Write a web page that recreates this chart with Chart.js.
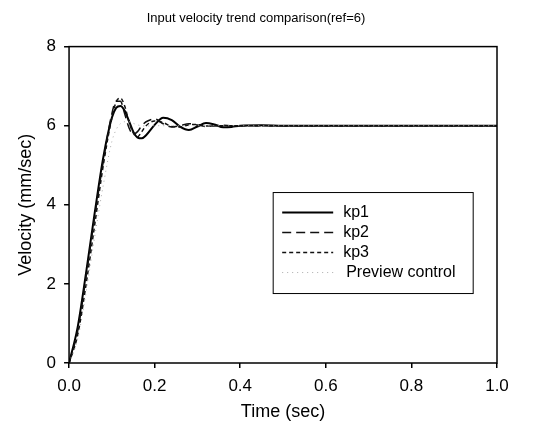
<!DOCTYPE html>
<html>
<head>
<meta charset="utf-8">
<script src="https://cdn.jsdelivr.net/npm/chart.js@4.4.1/dist/chart.umd.min.js"></script>
<style>
  html, body { margin: 0; padding: 0; background: #fff; }
  #wrap { width: 545px; height: 436px; position: relative; }
</style>
</head>
<body>
<div id="wrap"><canvas id="c" width="545" height="436"></canvas></div>
<script>
const timeSec = [0, 0.02, 0.04, 0.06, 0.08, 0.10, 0.11, 0.12, 0.13, 0.14, 0.15, 0.16, 0.17, 0.18, 0.20, 0.22, 0.24, 0.26, 0.28, 0.30, 0.32, 0.34, 0.36, 0.38, 0.40, 0.45, 0.50, 0.60, 0.70, 0.80, 0.90, 1.00];
const kp1 = [0, 0.9, 2.3, 3.8, 5.2, 6.2, 6.45, 6.5, 6.38, 6.12, 5.85, 5.7, 5.68, 5.76, 6.02, 6.2, 6.14, 5.97, 5.89, 5.98, 6.07, 6.03, 5.96, 5.97, 6.0, 6.01, 6.0, 6.0, 6.0, 6.0, 6.0, 6.0];
const kp2 = [0, 0.8, 2.2, 3.7, 5.1, 6.3, 6.62, 6.62, 6.3, 5.95, 5.78, 5.85, 6.0, 6.1, 6.17, 6.05, 5.97, 6.0, 6.05, 6.02, 5.98, 6.0, 6.01, 6.0, 6.0, 6.0, 6.0, 6.0, 6.0, 6.0, 6.0, 6.0];
const kp3 = [0, 0.7, 2.0, 3.5, 5.0, 6.2, 6.6, 6.7, 6.5, 6.1, 5.82, 5.72, 5.85, 6.0, 6.12, 6.08, 5.98, 5.97, 6.02, 6.03, 5.99, 6.0, 6.0, 6.0, 6.0, 6.0, 6.0, 6.0, 6.0, 6.0, 6.0, 6.0];
const preview = [0, 0.6, 1.8, 3.2, 4.5, 5.6, 5.9, 6.05, 6.1, 6.1, 6.06, 6.02, 6.0, 5.99, 6.0, 6.0, 6.0, 6.0, 6.0, 6.0, 6.0, 6.0, 6.0, 6.0, 6.0, 6.0, 6.0, 6.0, 6.0, 6.0, 6.0, 6.0];
const seriesNames = ['kp1', 'kp2', 'kp3', 'Preview control'];
const xTicks = [0, 0.2, 0.4, 0.6, 0.8, 1.0];
const yTicks = [0, 2, 4, 6, 8];

const FONT = "'Liberation Sans', Arial, sans-serif";
const toPts = ys => ys.map((y, i) => ({ x: timeSec[i], y }));

const styles = [
  { borderColor: '#000', borderWidth: 2, borderDash: [] },
  { borderColor: '#111', borderWidth: 1.5, borderDash: [9, 5] },
  { borderColor: '#111', borderWidth: 1.5, borderDash: [4, 3] },
  { borderColor: '#aaa', borderWidth: 1, borderDash: [1, 4] }
];
const allData = [kp1, kp2, kp3, preview];

const boxPlugin = {
  id: 'boxAndLegend',
  afterDraw(chart) {
    const { ctx, chartArea: a } = chart;
    ctx.save();
    ctx.strokeStyle = '#000';
    ctx.lineWidth = 1.5;
    ctx.setLineDash([]);
    ctx.strokeRect(a.left, a.top, a.right - a.left, a.bottom - a.top);
    const xs = chart.scales.x, ys = chart.scales.y;
    const lx = xs.getPixelForValue(0.477), ly = ys.getPixelForValue(4.31);
    const lw = 200, lh = 101;
    ctx.lineWidth = 1;
    ctx.strokeRect(lx, ly, lw, lh);
    ctx.font = "16px " + FONT;
    ctx.textBaseline = 'middle';
    ctx.fillStyle = '#000';
    const ordered = seriesNames.map(n => chart.data.datasets.find(d => d.label === n));
    ordered.forEach((ds, i) => {
      const yy = ly + 20 + i * 20;
      ctx.strokeStyle = ds.borderColor;
      ctx.lineWidth = ds.borderWidth;
      ctx.setLineDash(ds.borderDash);
      ctx.beginPath();
      ctx.moveTo(lx + 9, yy);
      ctx.lineTo(lx + 60, yy);
      ctx.stroke();
      ctx.setLineDash([]);
      ctx.fillText(ds.label, lx + (i === 3 ? 73 : 70), yy);
    });
    ctx.restore();
  }
};

new Chart(document.getElementById('c'), {
  type: 'line',
  data: {
    datasets: allData.map((d, i) => ({
      label: seriesNames[i],
      data: toPts(d),
      borderColor: styles[i].borderColor,
      borderWidth: styles[i].borderWidth,
      borderDash: styles[i].borderDash,
      pointRadius: 0,
      tension: 0.4,
      cubicInterpolationMode: 'monotone',
      fill: false
    })).reverse()
  },
  options: {
    responsive: false,
    animation: false,
    layout: { padding: { left: 15, right: 48, top: 0, bottom: 13 } },
    plugins: {
      legend: { display: false },
      tooltip: { enabled: false },
      title: {
        display: true,
        text: 'Input velocity trend comparison(ref=6)',
        color: '#000',
        font: { family: FONT, size: 13, weight: 'normal' },
        padding: { top: 11, bottom: 20 }
      }
    },
    scales: {
      x: {
        type: 'linear',
        min: 0, max: 1,
        afterBuildTicks: s => { s.ticks = xTicks.map(v => ({ value: v })); },
        ticks: { color: '#000', font: { family: FONT, size: 17 }, padding: 8, callback: v => v.toFixed(1) },
        grid: { drawOnChartArea: false, drawTicks: true, tickLength: 5, color: '#000', lineWidth: 1.5 },
        border: { display: false },
        title: { display: true, text: 'Time (sec)', color: '#000', font: { family: FONT, size: 18 }, padding: { top: -3, bottom: 0 } }
      },
      y: {
        type: 'linear',
        min: 0, max: 8,
        afterBuildTicks: s => { s.ticks = yTicks.map(v => ({ value: v })); },
        ticks: { color: '#000', font: { family: FONT, size: 17 }, padding: 8 },
        grid: { drawOnChartArea: false, drawTicks: true, tickLength: 5, color: '#000', lineWidth: 1.5 },
        border: { display: false },
        title: { display: true, text: 'Velocity (mm/sec)', color: '#000', font: { family: FONT, size: 18 }, padding: { top: 0, bottom: 2 } }
      }
    }
  },
  plugins: [boxPlugin]
});
</script>
</body>
</html>
